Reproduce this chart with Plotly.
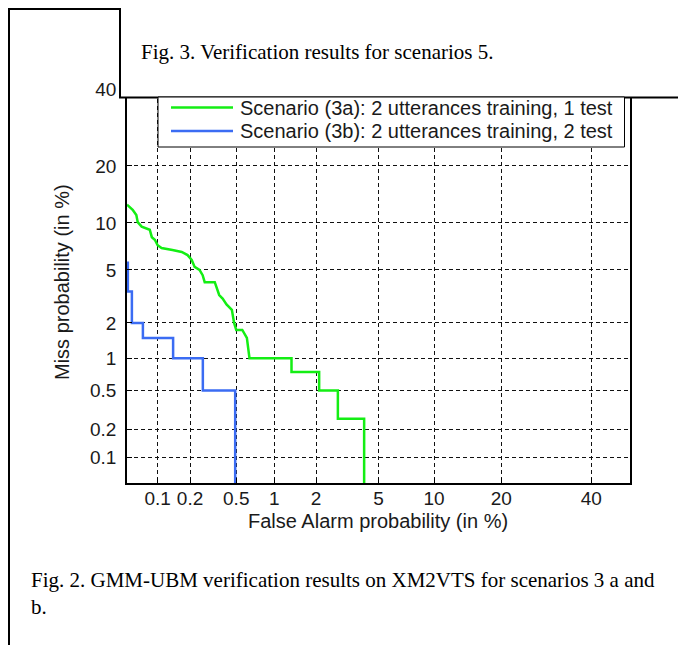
import plotly.graph_objects as go
from statistics import NormalDist

# ---------------- data (percent) ----------------
tick_pct = [0.1, 0.2, 0.5, 1, 2, 5, 10, 20, 40]
tick_labels = ["0.1", "0.2", "0.5", "1", "2", "5", "10", "20", "40"]
axis_min_pct = 0.05
axis_max_pct = 50

series_names = ["Scenario (3a): 2 utterances training, 1 test",
                "Scenario (3b): 2 utterances training, 2 test"]

green_fa = [0.05, 0.057, 0.062, 0.064, 0.070, 0.084, 0.088, 0.094, 0.10, 0.109,
            0.138, 0.168, 0.19, 0.207, 0.22, 0.243, 0.259, 0.27, 0.33, 0.34,
            0.36, 0.385, 0.415, 0.46, 0.48, 0.50, 0.56, 0.61, 0.62, 0.64,
            1.34, 1.34, 2.1, 2.1, 2.8, 2.8, 4.1, 4.1]
green_miss = [12.7, 11.9, 11.1, 10.1, 9.5, 9.1, 8.2, 7.9, 7.3, 7.0,
              6.8, 6.6, 6.3, 5.85, 5.25, 5.0, 4.6, 4.1, 4.1, 3.8,
              3.3, 3.1, 2.8, 2.54, 2.0, 1.75, 1.75, 1.5, 1.26, 1.0,
              1.0, 0.75, 0.75, 0.5, 0.5, 0.26, 0.26, 0.05]

blue_fa = [0.051, 0.051, 0.056, 0.056, 0.072, 0.072, 0.14, 0.14, 0.26, 0.26, 0.49, 0.49]
blue_miss = [5.7, 3.5, 3.5, 2.0, 2.0, 1.5, 1.5, 1.0, 1.0, 0.5, 0.5, 0.05]

# ---------------- normal-deviate (DET) scale ----------------
nd = NormalDist()


def probit(values):
    return [nd.inv_cdf(v / 100.0) for v in values]


# page has an 8px body margin, so the figure is placed at (8, 8)
OFF = 8
W, H = 686 - OFF, 645 - OFF
L, T = 127 - OFF, 57 - OFF
R = W - (630 - OFF)
B = H - (483 - OFF)
PW, PH = W - L - R, H - T - B


def px(x_page):
    return (x_page - OFF - L) / PW


def py(y_page):
    return (H - B - (y_page - OFF)) / PH


GREEN = "#14ee14"
BLUE = "#3b6cf3"
SANS = "Liberation Sans, Arial, sans-serif"
SERIF = "Liberation Serif, Times New Roman, serif"
TXT = "#1a1a1a"

fig = go.Figure()
fig.add_trace(go.Scatter(x=probit(green_fa), y=probit(green_miss), mode="lines",
                         name=series_names[0], line=dict(color=GREEN, width=2.5),
                         showlegend=False))
fig.add_trace(go.Scatter(x=probit(blue_fa), y=probit(blue_miss), mode="lines",
                         name=series_names[1], line=dict(color=BLUE, width=2.5),
                         showlegend=False))

axis_common = dict(
    range=[nd.inv_cdf(axis_min_pct / 100), nd.inv_cdf(axis_max_pct / 100)],
    tickvals=probit(tick_pct), ticktext=tick_labels,
    showgrid=True, gridcolor="#111", gridwidth=1, griddash="4px,3px",
    showline=True, linecolor="black", linewidth=1.5, mirror=True,
    ticks="inside", ticklen=5, tickcolor="black",
    tickfont=dict(family=SANS, size=19, color=TXT),
    zeroline=False, fixedrange=True,
)
fig.update_xaxes(**axis_common)
fig.update_yaxes(**axis_common)
fig.update_yaxes(ticklabelstandoff=5)
fig.update_xaxes(ticklabelstandoff=-3)

shapes = [
    # Fig. 3 caption box covering the top of the plot
    dict(type="rect", xref="paper", yref="paper", x0=px(120), x1=px(700),
         y0=py(97.5), y1=py(-5), fillcolor="white", line=dict(color="black", width=2),
         layer="above"),
    # outer frame
    dict(type="line", xref="paper", yref="paper", x0=px(8), x1=px(121),
         y0=py(9), y1=py(9), line=dict(color="black", width=2), layer="above"),
    dict(type="line", xref="paper", yref="paper", x0=px(9), x1=px(9),
         y0=py(8), y1=py(650), line=dict(color="black", width=2), layer="above"),
    dict(type="line", xref="paper", yref="paper", x0=px(682.5), x1=px(682.5),
         y0=py(400), y1=py(650), line=dict(color="#555", width=1.2), layer="above"),
    # legend box
    dict(type="rect", xref="paper", yref="paper", x0=px(158), x1=px(624.5),
         y0=py(147), y1=py(97), fillcolor="white", line=dict(color="black", width=1),
         layer="above"),
    dict(type="line", xref="paper", yref="paper", x0=px(171), x1=px(233),
         y0=py(107.5), y1=py(107.5), line=dict(color=GREEN, width=2.5), layer="above"),
    dict(type="line", xref="paper", yref="paper", x0=px(171), x1=px(233),
         y0=py(131), y1=py(131), line=dict(color=BLUE, width=2.5), layer="above"),
]

annotations = [
    dict(text=series_names[0], x=px(238), y=py(108), xanchor="left", yanchor="middle",
         font=dict(family=SANS, size=20, color=TXT)),
    dict(text=series_names[1], x=px(238), y=py(131), xanchor="left", yanchor="middle",
         font=dict(family=SANS, size=20, color=TXT)),
    dict(text="Fig. 3. Verification results for scenarios 5.", x=px(139), y=py(52),
         xanchor="left", yanchor="middle", font=dict(family=SERIF, size=21, color="black")),
    dict(text="Fig. 2. GMM-UBM verification results on XM2VTS for scenarios 3 a and",
         x=px(29), y=py(580), xanchor="left", yanchor="middle",
         font=dict(family=SERIF, size=21, color="black")),
    dict(text="b.", x=px(29), y=py(607), xanchor="left", yanchor="middle",
         font=dict(family=SERIF, size=21, color="black")),
    dict(text="False Alarm probability (in %)", x=px(377.5), y=py(521),
         xanchor="center", yanchor="middle", font=dict(family=SANS, size=20, color=TXT)),
    dict(text="Miss probability (in %)", x=px(62), y=py(282), textangle=-90,
         xanchor="center", yanchor="middle", font=dict(family=SANS, size=20, color=TXT)),
]
for a in annotations:
    a.update(xref="paper", yref="paper", showarrow=False)

fig.update_layout(
    width=W, height=H,
    margin=dict(l=L, r=R, t=T, b=B, pad=0),
    paper_bgcolor="white", plot_bgcolor="white",
    shapes=shapes, annotations=annotations, showlegend=False,
)

fig.write_html("out.html", config={"displayModeBar": False})
